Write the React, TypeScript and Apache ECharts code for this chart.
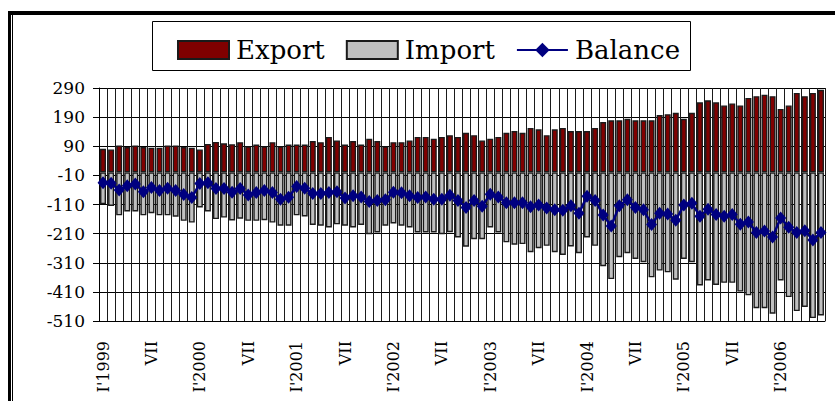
import React, { useEffect, useRef } from "react";
import * as echarts from "echarts";

const years = [1999, 2000, 2001, 2002, 2003, 2004, 2005, 2006];
const romanMonths = ["I", "II", "III", "IV", "V", "VI", "VII", "VIII", "IX", "X", "XI", "XII"];
const monthCount = 90;

const exportValues = [
  81, 79, 93, 87, 93, 87, 85, 85, 93, 93, 87, 85,
  79, 98, 105, 100, 97, 104, 90, 96, 90, 104, 90, 96,
  96, 96, 108, 104, 122, 110, 96, 108, 96, 116, 108, 90,
  104, 104, 110, 122, 122, 116, 122, 128, 122, 136, 128, 110,
  116, 122, 136, 142, 136, 153, 148, 128, 148, 153, 142, 142,
  142, 153, 173, 179, 179, 184, 179, 179, 179, 197, 200, 205,
  184, 205, 241, 248, 241, 230, 237, 230, 256, 262, 267, 262,
  218, 230, 273, 262, 273, 284,
];

const importValues = [
  -109, -115, -147, -134, -134, -147, -140, -147, -147, -152, -166, -172,
  -120, -134, -160, -155, -165, -159, -166, -166, -164, -172, -183, -183,
  -147, -151, -180, -183, -189, -178, -183, -189, -180, -212, -206, -183,
  -175, -183, -189, -206, -206, -206, -212, -205, -223, -255, -229, -229,
  -189, -206, -240, -248, -246, -274, -260, -252, -274, -283, -254, -277,
  -223, -252, -322, -366, -291, -277, -297, -308, -360, -337, -343, -368,
  -297, -308, -388, -371, -386, -379, -379, -409, -422, -466, -466, -485,
  -371, -428, -476, -462, -500, -491,
];

const balanceValues = [
  -35, -37, -60, -46, -40, -66, -52, -62, -54, -62, -76, -86,
  -38, -35, -55, -55, -68, -55, -77, -69, -62, -69, -92, -85,
  -48, -54, -72, -72, -69, -66, -88, -80, -84, -100, -96, -94,
  -68, -70, -80, -86, -84, -92, -92, -78, -96, -120, -96, -116,
  -75, -84, -104, -104, -104, -118, -112, -122, -128, -130, -114, -140,
  -82, -96, -146, -184, -114, -94, -120, -128, -179, -140, -143, -164,
  -112, -106, -150, -126, -144, -150, -144, -178, -170, -206, -201, -222,
  -156, -188, -206, -200, -232, -206,
];

const yMin = -510;
const yMax = 290;
const yStep = 100;

const categories: string[] = [];
for (const y of years) {
  for (const m of romanMonths) {
    if (categories.length < monthCount) categories.push(m + "'" + y);
  }
}

const SERIF = "'DejaVu Serif', 'Liberation Serif', serif";

export default function App() {
  const ref = useRef<HTMLDivElement>(null);
  useEffect(() => {
    if (!ref.current) return;
    const chart = echarts.init(ref.current, undefined, { renderer: "svg" });
    chart.setOption({
      animation: false,
      backgroundColor: "#ffffff",
      textStyle: { fontFamily: SERIF },
      grid: { left: 99, right: 10, top: 88, bottom: 80, containLabel: false },
      legend: {
        show: true,
        left: 177,
        top: 37,
        itemWidth: 51,
        itemHeight: 18,
        itemGap: 21,
        padding: 0,
        textStyle: { fontFamily: SERIF, fontSize: 26, color: "#000", padding: [0, 0, 0, 2] },
        data: [
          { name: "Export", icon: "rect" },
          { name: "Import", icon: "rect" },
          { name: "Balance" },
        ],
      },
      xAxis: {
        type: "category",
        data: categories,
        boundaryGap: true,
        axisLine: { show: true, onZero: false, lineStyle: { color: "#000", width: 1 } },
        axisTick: { show: false },
        axisLabel: {
          interval: 5,
          rotate: 90,
          margin: 20,
          fontFamily: SERIF,
          fontSize: 16,
          color: "#000",
          formatter: (v: string) => {
            const [m, y] = v.split("'");
            return m === "I" ? "I'" + y : m;
          },
        },
        splitLine: { show: true, interval: 0, lineStyle: { color: "#1a1a1a", width: 1 } },
      },
      yAxis: {
        type: "value",
        min: yMin,
        max: yMax,
        interval: yStep,
        axisLine: { show: true, lineStyle: { color: "#000", width: 1 } },
        axisTick: { show: true, length: 6, lineStyle: { color: "#000" } },
        axisLabel: { fontFamily: SERIF, fontSize: 17, color: "#000", margin: 14 },
        splitLine: { show: true, lineStyle: { color: "#000", width: 1 } },
      },
      series: [
        {
          name: "Export",
          type: "bar",
          data: exportValues,
          barWidth: 6,
          barGap: "-100%",
          itemStyle: { color: "#800000", borderColor: "#1a1a1a", borderWidth: 1.4 },
          z: 2,
        },
        {
          name: "Import",
          type: "bar",
          data: importValues,
          barWidth: 6,
          barGap: "-100%",
          itemStyle: { color: "#c0c0c0", borderColor: "#1a1a1a", borderWidth: 1.4 },
          z: 2,
        },
        {
          name: "Balance",
          type: "line",
          data: balanceValues,
          symbol: "diamond",
          symbolSize: [11, 13],
          showSymbol: true,
          showAllSymbol: true,
          lineStyle: { color: "#000080", width: 2.5 },
          itemStyle: { color: "#000080" },
          z: 5,
        },
      ],
      graphic: [
        { type: "rect", shape: { x: 8, y: 11, width: 827, height: 4 }, style: { fill: "#000" }, silent: true },
        { type: "rect", shape: { x: 8, y: 11, width: 3, height: 390 }, style: { fill: "#000" }, silent: true },
        { type: "rect", shape: { x: 12, y: 15, width: 1, height: 386 }, style: { fill: "#000" }, silent: true },
        {
          type: "rect",
          shape: { x: 152.5, y: 21.5, width: 538, height: 49 },
          style: { fill: "none", stroke: "#000", lineWidth: 1 },
          silent: true,
        },
      ],
    });
    return () => chart.dispose();
  }, []);
  return (
    <div
      ref={ref}
      style={{ position: "absolute", left: 0, top: 0, width: 835, height: 401, background: "#fff" }}
    />
  );
}
